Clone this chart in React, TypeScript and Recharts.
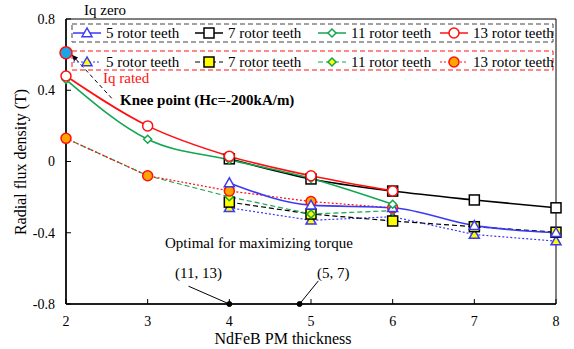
import React from "react";
import {
  LineChart,
  Line,
  XAxis,
  YAxis,
  ReferenceArea,
  ReferenceDot,
  ReferenceLine,
} from "recharts";

const thickness = [2, 3, 4, 5, 6, 7, 8];

// Iq zero (solid lines)
const zero5 = [null, null, -0.12, -0.245, -0.26, -0.36, -0.4];
const zero7 = [null, null, 0.015, -0.098, -0.166, -0.216, -0.26];
const zero11 = [0.46, 0.125, 0.01, -0.095, -0.24, null, null];
const zero13 = [0.48, 0.2, 0.03, -0.08, -0.165, null, null];

// Iq rated (dashed / dotted lines)
const rated5 = [null, null, -0.26, -0.33, -0.31, -0.41, -0.447];
const rated7 = [null, null, -0.228, -0.295, -0.334, -0.366, -0.397];
const rated11 = [0.13, -0.08, -0.198, -0.295, -0.276, null, null];
const rated13 = [0.13, -0.08, -0.165, -0.225, -0.26, null, null];

const yTicks = [-0.8, -0.4, 0, 0.4, 0.8];
const xTicks = [2, 3, 4, 5, 6, 7, 8];
const legendNames = ["5 rotor teeth", "7 rotor teeth", "11 rotor teeth", "13 rotor teeth"];

const kneePoint = { x: 2, y: 0.61 };

const data = thickness.map((t, i) => ({
  t,
  zero5: zero5[i],
  zero7: zero7[i],
  zero11: zero11[i],
  zero13: zero13[i],
  rated5: rated5[i],
  rated7: rated7[i],
  rated11: rated11[i],
  rated13: rated13[i],
}));

const BLUE = "#3a3af5";
const GREEN = "#12a650";
const RED = "#ff1010";
const YELLOW = "#ffff00";
const ORANGE = "#ffa500";
const FONT = "'Liberation Serif', 'Times New Roman', serif";

type Shape = "triangle" | "square" | "diamond" | "circle";

function Marker({ shape, cx, cy, fill, stroke }: { shape: Shape; cx: number; cy: number; fill: string; stroke: string }) {
  if (shape === "triangle") {
    const s = 5;
    return (
      <polygon
        points={`${cx},${cy - s} ${cx - s},${cy + s * 0.75} ${cx + s},${cy + s * 0.75}`}
        fill={fill}
        stroke={stroke}
        strokeWidth={1.5}
      />
    );
  }
  if (shape === "square") {
    const s = 5;
    return <rect x={cx - s} y={cy - s} width={s * 2} height={s * 2} fill={fill} stroke={stroke} strokeWidth={1.5} />;
  }
  if (shape === "diamond") {
    const s = 4;
    return (
      <polygon
        points={`${cx},${cy - s} ${cx + s},${cy} ${cx},${cy + s} ${cx - s},${cy}`}
        fill={fill}
        stroke={stroke}
        strokeWidth={1.5}
      />
    );
  }
  return <circle cx={cx} cy={cy} r={5} fill={fill} stroke={stroke} strokeWidth={1.5} />;
}

const makeDot = (shape: Shape, fill: string, stroke: string) => (props: any) => {
  const { cx, cy, index } = props;
  if (cx == null || cy == null || props.value == null) return <g key={`e${index}`} />;
  return (
    <g key={`d${index}`}>
      <Marker shape={shape} cx={cx} cy={cy} fill={fill} stroke={stroke} />
    </g>
  );
};

const ArrowShape = (props: any) => {
  const { x1, y1, x2, y2 } = props;
  if (x1 == null) return null;
  const ang = Math.atan2(y2 - y1, x2 - x1);
  const len = 7;
  const a1 = ang + Math.PI - 0.4;
  const a2 = ang + Math.PI + 0.4;
  return (
    <g>
      <line x1={x1} y1={y1} x2={x2} y2={y2} stroke="#000" strokeWidth={1} strokeDasharray="4 3" />
      <polygon
        points={`${x2},${y2} ${x2 + len * Math.cos(a1)},${y2 + len * Math.sin(a1)} ${x2 + len * Math.cos(a2)},${y2 + len * Math.sin(a2)}`}
        fill="#000"
      />
    </g>
  );
};

const zeroStyles = [
  { key: "zero5", color: BLUE, shape: "triangle" as Shape, fill: "#fff" },
  { key: "zero7", color: "#000", shape: "square" as Shape, fill: "#fff" },
  { key: "zero11", color: GREEN, shape: "diamond" as Shape, fill: "#fff" },
  { key: "zero13", color: RED, shape: "circle" as Shape, fill: "#fff" },
];

const ratedStyles = [
  { key: "rated5", color: BLUE, shape: "triangle" as Shape, fill: YELLOW, dash: "2 2" },
  { key: "rated7", color: "#000", shape: "square" as Shape, fill: YELLOW, dash: "5 3" },
  { key: "rated11", color: GREEN, shape: "diamond" as Shape, fill: YELLOW, dash: "5 3" },
  { key: "rated13", color: RED, shape: "circle" as Shape, fill: ORANGE, dash: "2 2" },
];

const legendX = [73, 195, 318, 440];
const tickStyle = { fontSize: 14, fill: "#000", fontFamily: FONT };

function Overlay() {
  return (
    <svg
      width={574}
      height={349}
      style={{ position: "absolute", left: 0, top: 0, pointerEvents: "none", fontFamily: FONT }}
    >
      <text x={84} y={15} fontSize={15} fill="#000">Iq zero</text>
      <rect x={72} y={24} width={481} height={18} fill="none" stroke="#444" strokeDasharray="5 3" strokeWidth={1} />
      <rect x={72} y={51} width={481} height={19} fill="none" stroke={RED} strokeDasharray="5 3" strokeWidth={1} />
      {zeroStyles.map((s, i) => (
        <g key={s.key}>
          <line x1={legendX[i]} y1={33} x2={legendX[i] + 28} y2={33} stroke={s.color} strokeWidth={1.5} />
          <Marker shape={s.shape} cx={legendX[i] + 14} cy={33} fill={s.fill} stroke={s.color} />
          <text x={legendX[i] + 33} y={38} fontSize={15} fill="#000">{legendNames[i]}</text>
        </g>
      ))}
      {ratedStyles.map((s, i) => (
        <g key={s.key}>
          <line x1={legendX[i]} y1={62} x2={legendX[i] + 28} y2={62} stroke={s.color} strokeWidth={1.2} strokeDasharray={s.dash} />
          <Marker shape={s.shape} cx={legendX[i] + 14} cy={62} fill={s.fill} stroke={s.color} />
          <text x={legendX[i] + 33} y={67} fontSize={15} fill="#000">{legendNames[i]}</text>
        </g>
      ))}
      <text x={103} y={83} fontSize={15} fill={RED}>Iq rated</text>
      <text x={120} y={105} fontSize={15} fontWeight="bold" fill="#000">Knee point (Hc=-200kA/m)</text>
      <text x={165} y={248} fontSize={15} fill="#000">Optimal for maximizing torque</text>
      <text x={175} y={278} fontSize={15} fill="#000">(11, 13)</text>
      <text x={317} y={278} fontSize={15} fill="#000">(5, 7)</text>
      <text x={283} y={344} fontSize={16} textAnchor="middle" fill="#000">NdFeB PM thickness</text>
      <text
        x={22}
        y={162}
        fontSize={16}
        textAnchor="middle"
        fill="#000"
        transform="rotate(-90 22 162)"
        dominantBaseline="middle"
      >
        Radial flux density (T)
      </text>
    </svg>
  );
}

export default function App() {
  return (
    <div style={{ position: "relative", width: 574, height: 349, background: "#fff" }}>
      <style>{"body{margin:0}"}</style>
      <LineChart
        width={574}
        height={349}
        data={data}
        margin={{ top: 19, right: 18, left: 0, bottom: 0 }}
        style={{ fontFamily: FONT }}
      >
        <XAxis
          dataKey="t"
          type="number"
          domain={[2, 8]}
          ticks={xTicks}
          height={45}
          tickSize={-5}
          tickMargin={17}
          axisLine={{ stroke: "#000", strokeWidth: 1.5 }}
          tickLine={{ stroke: "#000" }}
          tick={tickStyle}
        />
        <YAxis
          type="number"
          domain={[-0.8, 0.8]}
          ticks={yTicks}
          width={66}
          tickSize={-5}
          tickMargin={16}
          axisLine={{ stroke: "#000", strokeWidth: 1.5 }}
          tickLine={{ stroke: "#000" }}
          tick={tickStyle}
          tickFormatter={(v: number) => String(v)}
        />
        <ReferenceArea x1={2} x2={8} y1={-0.8} y2={0.8} fill="none" stroke="#000" strokeWidth={1} />
        {ratedStyles.map((s) => (
          <Line
            key={s.key}
            type="linear"
            dataKey={s.key}
            stroke={s.color}
            strokeWidth={1.2}
            strokeDasharray={s.dash}
            dot={makeDot(s.shape, s.fill, s.color)}
            isAnimationActive={false}
          />
        ))}
        {zeroStyles.map((s) => (
          <Line
            key={s.key}
            type="monotone"
            dataKey={s.key}
            stroke={s.color}
            strokeWidth={1.6}
            dot={makeDot(s.shape, s.fill, s.color)}
            isAnimationActive={false}
          />
        ))}
        <ReferenceLine
          segment={[{ x: 2.56, y: 0.355 }, { x: 2.07, y: 0.6 }]}
          shape={ArrowShape}
          ifOverflow="visible"
        />
        <ReferenceDot x={kneePoint.x} y={kneePoint.y} r={6} fill="#1aa6e6" stroke={RED} strokeWidth={1.5} ifOverflow="visible" />
        <ReferenceLine segment={[{ x: 3.5, y: -0.7 }, { x: 4, y: -0.8 }]} stroke="#000" strokeWidth={1} ifOverflow="visible" />
        <ReferenceLine segment={[{ x: 5.09, y: -0.67 }, { x: 4.86, y: -0.8 }]} stroke="#000" strokeWidth={1} ifOverflow="visible" />
        <ReferenceDot x={4} y={-0.8} r={2.5} fill="#000" stroke="#000" ifOverflow="visible" />
        <ReferenceDot x={4.86} y={-0.8} r={2.5} fill="#000" stroke="#000" ifOverflow="visible" />
      </LineChart>
      <Overlay />
    </div>
  );
}
